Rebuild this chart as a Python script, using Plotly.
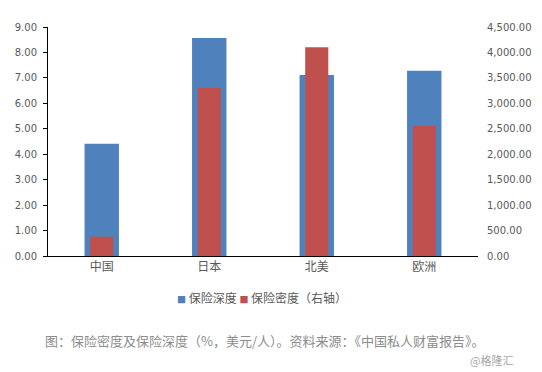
import plotly.graph_objects as go

categories = ["中国", "日本", "北美", "欧洲"]
depth = [4.41, 8.57, 7.11, 7.28]          # 保险深度 (%)
density = [380, 3300, 4100, 2555]          # 保险密度 (美元/人), right axis
left_ticks = [0, 1, 2, 3, 4, 5, 6, 7, 8, 9]
right_ticks = [0, 500, 1000, 1500, 2000, 2500, 3000, 3500, 4000, 4500]
series_names = ["保险深度", "保险密度（右轴）"]

BLUE = "#4F81BD"
RED = "#C0504D"
FONT = "Noto Sans CJK SC"

fig = go.Figure()
fig.add_trace(go.Bar(x=categories, y=depth, name=series_names[0], marker_color=BLUE,
                     marker_line_width=0, width=0.32, yaxis="y"))
fig.add_trace(go.Bar(x=categories, y=density, name=series_names[1], marker_color=RED,
                     marker_line_width=0, width=0.215, yaxis="y2"))

legend_text = (
    f"<span style='color:{BLUE};font-size:9px'>■</span> {series_names[0]} "
    f"<span style='color:{RED};font-size:9px'>■</span> {series_names[1]}"
)

fig.update_layout(
    width=542, height=372,
    margin=dict(l=48, r=64, t=27, b=116, autoexpand=False),
    paper_bgcolor="white", plot_bgcolor="white",
    barmode="overlay",
    font=dict(family=FONT, size=11, color="#595959"),
    showlegend=False,
    xaxis=dict(showline=True, linecolor="black", linewidth=1, ticks="",
               tickfont=dict(size=12, color="#595959"), showgrid=False),
    yaxis=dict(range=[0, 9], tickvals=left_ticks, tickformat=".2f", showline=True,
               linecolor="black", linewidth=1, ticks="outside", ticklen=4,
               tickcolor="black", showgrid=False, zeroline=False, ticklabelstandoff=4,
               tickfont=dict(family="DejaVu Sans", size=10, color="#595959")),
    yaxis2=dict(range=[0, 4500], tickvals=right_ticks, tickformat=",.2f", overlaying="y",
                side="right", showline=False, ticks="", showgrid=False, zeroline=False,
                ticklabelstandoff=8,
                tickfont=dict(family="DejaVu Sans", size=10, color="#595959")),
    annotations=[
        dict(text=legend_text, x=0.497, y=-0.183, xref="paper", yref="paper",
             xanchor="center", yanchor="middle", showarrow=False,
             font=dict(family=FONT, size=12, color="#595959")),
        dict(text="图：保险密度及保险深度（%，美元/人）。资料来源：《中国私人财富报告》。",
             x=0.505, y=-0.367, xref="paper", yref="paper", xanchor="center", yanchor="middle",
             showarrow=False, font=dict(family=FONT, size=13, color="#8c8c8c")),
        dict(text="@格隆汇", x=1.086, y=-0.454, xref="paper", yref="paper",
             xanchor="right", yanchor="middle", showarrow=False,
             font=dict(family=FONT, size=11, color="#a6a6a6")),
    ],
)

fig.write_html("out.html", config={"displayModeBar": False},
               post_script="document.body.style.margin='0';")
